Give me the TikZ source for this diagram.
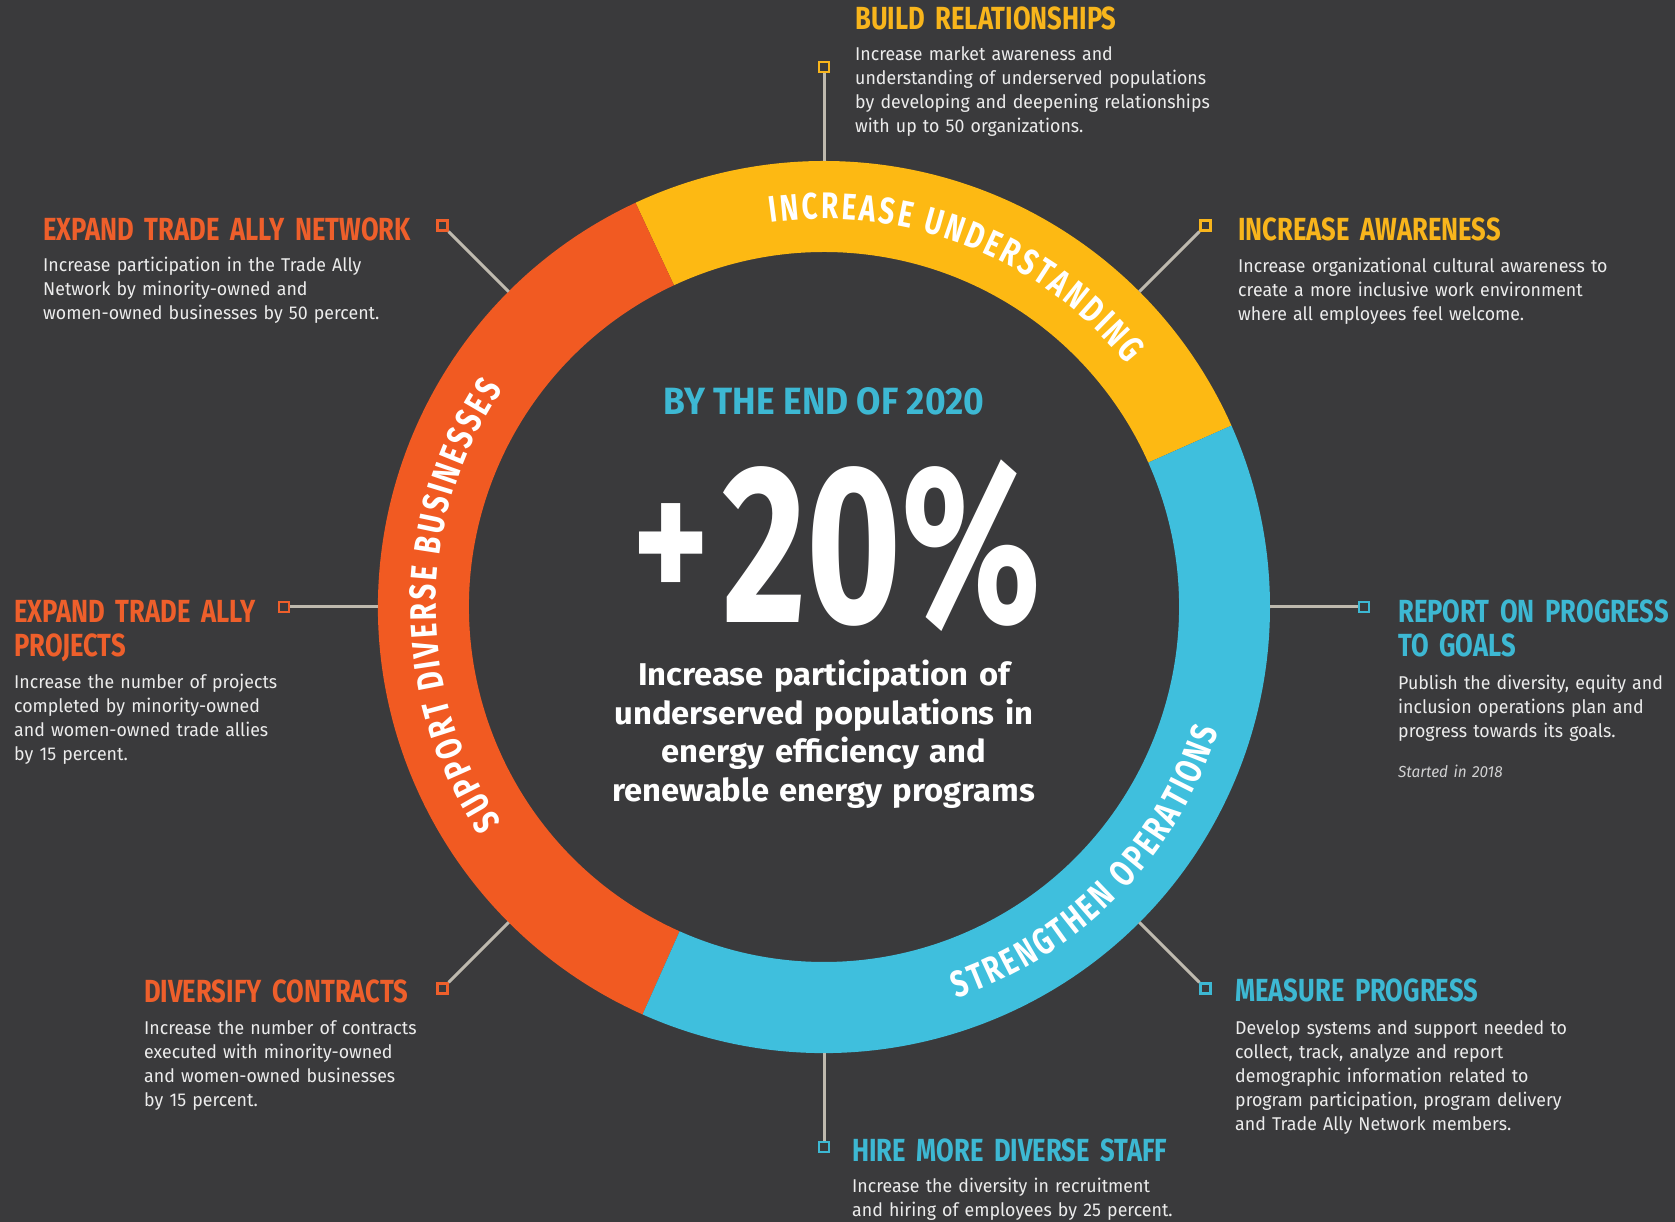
\documentclass[tikz,border=0pt]{standalone}
\usepackage{fontspec}
\setmainfont{Fira Sans}[FakeStretch=0.96]
\newfontfamily\headfont{Fira Sans Bold}[FakeStretch=0.8]
\newfontfamily\byfont{Fira Sans Bold}[FakeStretch=0.93]
\newfontfamily\bigfont{Fira Sans Bold}[FakeStretch=0.72]
\newfontfamily\ringfont{Fira Sans Bold}[FakeStretch=0.75]
\newfontfamily\midfont{Fira Sans Bold}[FakeStretch=1.04]
\usetikzlibrary{calc,decorations.text}
\definecolor{bg}{HTML}{3A3A3C}
\definecolor{orr}{HTML}{F15A22}
\definecolor{ylr}{HTML}{FDB913}
\definecolor{cyr}{HTML}{3FBFDD}
\definecolor{orh}{HTML}{EE5F2B}
\definecolor{ylh}{HTML}{F8B51C}
\definecolor{cyh}{HTML}{3DB8D3}
\definecolor{bodyc}{HTML}{ECECEC}
\definecolor{connc}{HTML}{BEB9AE}
\tikzset{
  head/.style={anchor=base west, inner sep=0pt, text width=500pt, align=left, font=\headfont\fontsize{32}{34}\selectfont},
  body/.style={anchor=base west, inner sep=0pt, text width=430pt, align=left, text=bodyc, font=\fontsize{18.5}{24}\selectfont},
  sq/.style={draw, line width=2.8pt, fill=bg, minimum size=10pt, inner sep=0pt},
  conn/.style={draw=connc, line width=3pt},
  ringtext/.style={decorate, decoration={text along path, text color=white, text align=center, text={|\ringfont\fontsize{37}{37}\selectfont\kern2.8pt|#1}}},
}
\begin{document}
\begin{tikzpicture}[x=1pt,y=1pt]
\useasboundingbox (0,0) rectangle (1675,1222);
\fill[bg] (0,0) rectangle (1675,1222);
\coordinate (C) at (824,615);
% ring
\fill[ylr] ($(C)+(24:446pt)$) arc[start angle=24,end angle=115,radius=446pt] -- ($(C)+(115:355pt)$) arc[start angle=115,end angle=24,radius=355pt] -- cycle;
\fill[orr] ($(C)+(115:446pt)$) arc[start angle=115,end angle=246,radius=446pt] -- ($(C)+(246:355pt)$) arc[start angle=246,end angle=115,radius=355pt] -- cycle;
\fill[cyr] ($(C)+(-114:446pt)$) arc[start angle=-114,end angle=24,radius=446pt] -- ($(C)+(24:355pt)$) arc[start angle=24,end angle=-114,radius=355pt] -- cycle;
% ring texts
\path[ringtext={INCREASE UNDERSTANDING}]
  ($(C)+(115:388pt)$) arc[start angle=115,end angle=22,radius=388pt];
\path[ringtext={SUPPORT DIVERSE BUSINESSES}]
  ($(C)+(246:388pt)$) arc[start angle=246,end angle=114,radius=388pt];
\path[ringtext={STRENGTHEN OPERATIONS}]
  ($(C)+(-114:413pt)$) arc[start angle=-114,end angle=25,radius=413pt];
% connectors and squares
\coordinate (rBuild) at ($(C)+(90:446pt)$);
\coordinate (rAware) at ($(C)+(45:446pt)$);
\coordinate (rReport) at ($(C)+(0:446pt)$);
\coordinate (rMeasure) at ($(C)+(-45:446pt)$);
\coordinate (rHire) at ($(C)+(-90:446pt)$);
\coordinate (rDiv) at ($(C)+(-135:446pt)$);
\coordinate (rProj) at ($(C)+(180:446pt)$);
\coordinate (rNet) at ($(C)+(135:446pt)$);
\node[sq, draw=ylh] (sqBuild) at ($(C)+(90:540pt)$) {};
\node[sq, draw=ylh] (sqAware) at ($(C)+(45:540pt)$) {};
\node[sq, draw=cyh] (sqReport) at ($(C)+(0:540pt)$) {};
\node[sq, draw=cyh] (sqMeasure) at ($(C)+(-45:540pt)$) {};
\node[sq, draw=cyh] (sqHire) at ($(C)+(-90:540pt)$) {};
\node[sq, draw=orh] (sqDiv) at ($(C)+(-135:540pt)$) {};
\node[sq, draw=orh] (sqProj) at ($(C)+(180:540pt)$) {};
\node[sq, draw=orh] (sqNet) at ($(C)+(135:540pt)$) {};
\draw[conn] (rBuild) -- (sqBuild);
\draw[conn] (rAware) -- (sqAware);
\draw[conn] (rReport) -- (sqReport);
\draw[conn] (rMeasure) -- (sqMeasure);
\draw[conn] (rHire) -- (sqHire);
\draw[conn] (rDiv) -- (sqDiv);
\draw[conn] (rProj) -- (sqProj);
\draw[conn] (rNet) -- (sqNet);
% centre
\node[anchor=base, inner sep=0pt, text=cyh, font=\byfont\fontsize{38}{38}\selectfont] (by) at (824,807) {BY THE END OF 2020};
\node[inner sep=0pt, text=white, font=\headfont\fontsize{182}{182}\selectfont] (plus) at (671,668) {+};
\node[anchor=base west, inner sep=0pt, text=white, font=\bigfont\fontsize{226}{226}\selectfont] (pct) at (722,599) {20\%};
\node[anchor=base, inner sep=0pt, text width=560pt, align=center, text=white, font=\midfont\fontsize{31.5}{38.5}\selectfont] (goal) at (824,536) {Increase participation of\\underserved populations in\\energy efficiency and\\renewable energy programs};
% blocks
\node[head, text=ylh] (hBuild) at (855,1192) {BUILD RELATIONSHIPS};
\node[body] (bBuild) at (855,1161) {Increase market awareness and\\understanding of underserved populations\\by developing and deepening relationships\\with up to 50 organizations.};
\node[head, text=orh] (hNet) at (43,981) {EXPAND TRADE ALLY NETWORK};
\node[body] (bNet) at (43,950) {Increase participation in the Trade Ally\\Network by minority-owned and\\women-owned businesses by 50 percent.};
\node[head, text=ylh] (hAware) at (1238,981) {INCREASE AWARENESS};
\node[body] (bAware) at (1238,949) {Increase organizational cultural awareness to\\create a more inclusive work environment\\where all employees feel welcome.};
\node[head, text=orh] (hProj) at (14,599) {EXPAND TRADE ALLY\\PROJECTS};
\node[body] (bProj) at (14,533) {Increase the number of projects\\completed by minority-owned\\and women-owned trade allies\\by 15 percent.};
\node[head, text=cyh] (hReport) at (1398,599) {REPORT ON PROGRESS\\TO GOALS};
\node[body] (bReport) at (1398,532) {Publish the diversity, equity and\\inclusion operations plan and\\progress towards its goals.};
\node[body, font=\itshape\fontsize{16}{20}\selectfont, text=bodyc!85!bg] (sReport) at (1398,444) {Started in 2018};
\node[head, text=orh] (hDiv) at (144,219) {DIVERSIFY CONTRACTS};
\node[body] (bDiv) at (144,187) {Increase the number of contracts\\executed with minority-owned\\and women-owned businesses\\by 15 percent.};
\node[head, text=cyh] (hMeasure) at (1235,220) {MEASURE PROGRESS};
\node[body] (bMeasure) at (1235,187) {Develop systems and support needed to\\collect, track, analyze and report\\demographic information related to\\program participation, program delivery\\and Trade Ally Network members.};
\node[head, text=cyh] (hHire) at (852,60) {HIRE MORE DIVERSE STAFF};
\node[body] (bHire) at (852,29) {Increase the diversity in recruitment\\and hiring of employees by 25 percent.};
\end{tikzpicture}
\end{document}
